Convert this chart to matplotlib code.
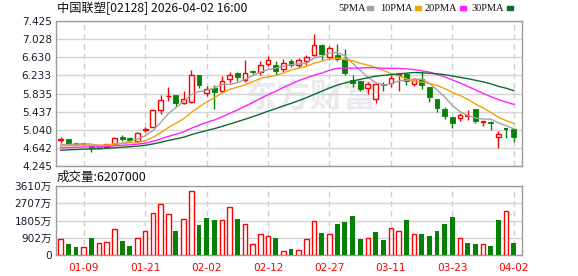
import numpy as np
import pandas as pd
import matplotlib
matplotlib.use('Agg')
import matplotlib.pyplot as plt
from matplotlib.patches import Rectangle

plt.rcParams['font.family'] = ['DejaVu Sans', 'Noto Sans CJK SC']

# trading days (HK, lunar new year closed 02-17..02-19)
holidays = ['2026-02-17', '2026-02-18', '2026-02-19']
dates = pd.bdate_range('2026-01-06', '2026-04-02', freq='C', holidays=holidays)

opens = [4.82, 4.83, 4.76, 4.72, 4.69, 4.63, 4.66, 4.72, 4.88, 4.85,
         4.79, 5.03, 5.10, 5.47, 5.77, 5.80, 5.62, 5.64, 6.24, 5.84,
         5.96, 5.89, 6.15, 6.29, 6.13, 6.33, 6.31, 6.48, 6.46, 6.37,
         6.55, 6.47, 6.55, 6.67, 6.90, 6.63, 6.68, 6.60, 6.13, 6.11,
         5.95, 5.71, 6.04, 6.07, 6.23, 6.27, 6.04, 6.16, 5.98, 5.71,
         5.49, 5.32, 5.30, 5.34, 5.49, 5.22, 5.21, 4.88, 5.06, 5.06]
highs = [4.88, 4.84, 4.77, 4.75, 4.70, 4.71, 4.73, 4.89, 4.92, 4.89,
         4.98, 5.10, 5.48, 5.80, 5.97, 5.81, 5.89, 6.35, 6.24, 6.00,
         6.02, 6.22, 6.31, 6.30, 6.57, 6.36, 6.55, 6.66, 6.55, 6.59,
         6.59, 6.62, 6.69, 7.14, 6.92, 6.88, 6.91, 6.80, 6.24, 6.12,
         6.09, 6.05, 6.09, 6.25, 6.28, 6.29, 6.18, 6.32, 5.98, 5.71,
         5.53, 5.32, 5.41, 5.47, 5.49, 5.24, 5.23, 5.01, 5.08, 5.07]
lows = [4.75, 4.71, 4.70, 4.70, 4.55, 4.61, 4.65, 4.71, 4.79, 4.77,
        4.78, 4.99, 5.09, 5.38, 5.67, 5.53, 5.61, 5.62, 5.96, 5.78,
        5.49, 5.85, 6.06, 6.10, 6.09, 6.26, 6.25, 6.44, 6.25, 6.31,
        6.42, 6.40, 6.46, 6.66, 6.58, 6.58, 6.55, 6.25, 5.98, 5.89,
        5.82, 5.62, 5.90, 5.97, 5.89, 6.02, 6.01, 5.94, 5.65, 5.43,
        5.27, 5.07, 5.24, 5.26, 5.18, 5.12, 5.03, 4.63, 4.87, 4.77]
closes = [4.84, 4.72, 4.71, 4.73, 4.63, 4.68, 4.72, 4.87, 4.83, 4.81,
          4.96, 5.05, 5.47, 5.69, 5.79, 5.63, 5.71, 6.24, 6.02, 5.93,
          5.87, 6.11, 6.25, 6.19, 6.29, 6.30, 6.47, 6.56, 6.33, 6.51,
          6.46, 6.56, 6.63, 6.90, 6.71, 6.83, 6.60, 6.28, 6.07, 5.94,
          6.05, 6.04, 6.02, 6.18, 6.27, 6.10, 6.16, 6.03, 5.76, 5.52,
          5.35, 5.19, 5.36, 5.35, 5.23, 5.24, 5.19, 4.94, 5.05, 4.88]
# closes before the window, only needed to start the moving averages
prior_closes = [4.45, 4.48, 4.52, 4.50, 4.47, 4.49, 4.51, 4.50, 4.48, 4.50,
                4.55, 4.58, 4.60, 4.57, 4.62, 4.60, 4.58, 4.61, 4.63, 4.61,
                4.64, 4.67, 4.65, 4.68, 4.66, 4.69, 4.66, 4.70, 4.66]
# volume in 万股
volume = [820, 575, 419, 401, 889, 610, 680, 1343, 732, 471,
          872, 1238, 2180, 2668, 2145, 1256, 1866, 3331, 1570, 1936,
          1831, 1814, 2494, 1884, 1604, 575, 1081, 977, 889, 209,
          314, 244, 820, 1779, 1168, 1099, 1639, 1744, 2040, 837,
          889, 1221, 802, 1413, 1256, 1831, 1099, 1116, 1011, 1273,
          1639, 1988, 872, 645, 593, 575, 488, 1849, 2302, 620.7]

price_ticks = [4.245, 4.642, 5.040, 5.437, 5.835, 6.233, 6.630, 7.028, 7.425]
vol_ticks = [0, 902, 1805, 2707, 3610]
ma_windows = [5, 10, 20, 30]
ma_colors = ['#a3a3a3', '#f0a30a', '#ff22ff', '#0a6b2e']

RED = '#ff0000'
GREEN = '#068006'
GRID = '#d4d4d4'

fig = plt.figure(figsize=(5.78, 2.76), dpi=100)
W, H = 578, 276
ax = fig.add_axes([56 / W, 1 - 166 / H, 466 / W, 145 / H])
axv = fig.add_axes([56 / W, 1 - 255 / H, 466 / W, 69 / H])

n = len(closes)
x = np.arange(n)
o = np.array(opens); c = np.array(closes); hi = np.array(highs); lo = np.array(lows)
up = c >= o
bw = 0.62

for i in range(n):
    col = RED if up[i] else GREEN
    top, bot = max(o[i], c[i]), min(o[i], c[i])
    ax.vlines(x[i], top, hi[i], color=col, lw=1, zorder=3)
    ax.vlines(x[i], lo[i], bot, color=col, lw=1, zorder=3)
    if top - bot < 0.012:
        ax.hlines(c[i], x[i] - bw / 2, x[i] + bw / 2, color=col, lw=1.5, zorder=4)
    elif up[i]:
        ax.add_patch(Rectangle((x[i] - bw / 2, bot), bw, top - bot, facecolor='white',
                               edgecolor=col, lw=1, zorder=4))
    else:
        ax.add_patch(Rectangle((x[i] - bw / 2, bot), bw, top - bot, facecolor=col,
                               edgecolor=col, lw=0.6, zorder=4))

all_closes = pd.Series(prior_closes + closes)
for w, col in zip(ma_windows, ma_colors):
    ma = all_closes.rolling(w).mean().values[-n:]
    ax.plot(x, ma, color=col, lw=1, zorder=5)

# watermark
ax.text(0.545, 0.47, '东方财富', transform=ax.transAxes, fontsize=24, fontweight='bold',
        family='Noto Sans CJK SC', color='#ebebef', ha='center', va='center', zorder=1)

xlim = (-0.61, n + 0.07)
ax.set_xlim(*xlim)
ax.set_ylim(price_ticks[0], price_ticks[-1])
ax.set_yticks(price_ticks)
ax.set_yticklabels(['%.3f' % t for t in price_ticks])

# volume bars, coloured by change against previous close
prev = np.r_[o[0], c[:-1]]
vup = c >= prev
for i in range(n):
    if vup[i]:
        axv.bar(x[i], volume[i], width=0.6, facecolor='white', edgecolor=RED, lw=1, zorder=3)
    else:
        axv.bar(x[i], volume[i], width=0.62, color=GREEN, lw=0, zorder=3)
axv.set_xlim(*xlim)
axv.set_ylim(vol_ticks[0], vol_ticks[-1])
axv.set_yticks(vol_ticks)
axv.set_yticklabels([('%d万' % v) if v else '0' for v in vol_ticks])

tick_idx = np.arange(3, n, 8)
for a in (ax, axv):
    a.set_xticks(tick_idx)
    a.grid(axis='y', color=GRID, lw=1, zorder=0)
    for t in tick_idx:
        a.axvline(t, color='#cfcfcf', lw=1, ls=(0, (4, 3)), zorder=0)
    for s in a.spines.values():
        s.set_color('#9c9c9c')
        s.set_linewidth(1)
    a.tick_params(axis='y', length=0, pad=3, labelsize=7.6, labelcolor='#1c1c2e')
    a.tick_params(axis='x', length=0)
ax.set_xticklabels([])
axv.set_xticklabels([d.strftime('%m-%d') for d in dates[tick_idx]], color=RED, fontsize=7.6)
axv.tick_params(axis='x', pad=6)

fig.text(57 / W, 1 - 8 / H, '中国联塑[02128] 2026-04-02 16:00', family='Noto Sans CJK SC',
         fontsize=8.8, va='center', ha='left', color='#111')
fig.text(57 / W, 1 - 177 / H, '成交量:%d' % round(volume[-1] * 10000), family='Noto Sans CJK SC',
         fontsize=9, va='center', ha='left', color='#111')

# legend on the top right
lab_x = [338, 380, 425, 472]
for w, col, lx in zip(ma_windows, ma_colors, lab_x):
    fig.text(lx / W, 1 - 8.5 / H, '%dPMA' % w, family='Liberation Serif', fontsize=7.5,
             va='center', ha='left', color='#111')
    sq_x = lx + (26 if w < 10 else 32) + 3
    fig.patches.append(Rectangle((sq_x / W, 1 - 10 / H), 6 / W, 3.5 / H, color=col,
                                 transform=fig.transFigure, figure=fig))

fig.savefig('out.png', dpi=100)
